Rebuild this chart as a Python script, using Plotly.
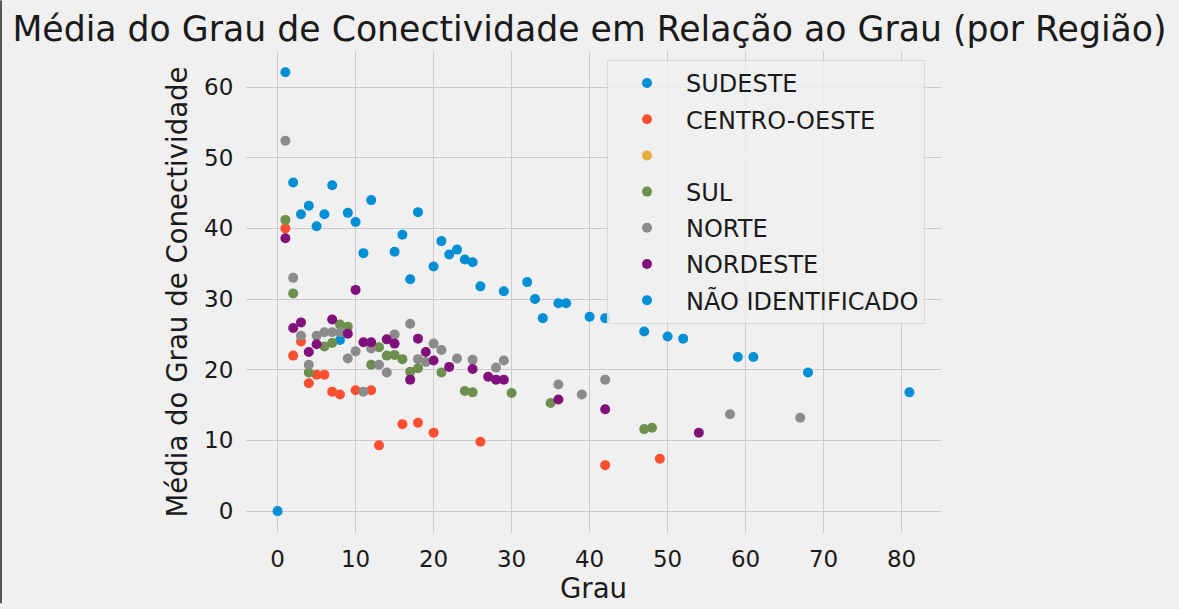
import plotly.graph_objects as go

# ---- data ----
sudeste_x = [1, 2, 3, 4, 5, 6, 7, 8, 9, 10, 11, 12, 15, 16, 17, 18, 20, 21, 22, 23, 24, 25, 26, 29, 32, 33, 34, 36, 37, 40, 42, 47, 50, 52, 59, 61, 68, 81]
sudeste_y = [62.1, 46.5, 42.0, 43.2, 40.3, 42.0, 46.1, 24.2, 42.2, 40.9, 36.5, 44.0, 36.7, 39.1, 32.8, 42.3, 34.6, 38.2, 36.3, 37.0, 35.6, 35.2, 31.8, 31.1, 32.4, 30.0, 27.3, 29.4, 29.4, 27.5, 27.3, 25.4, 24.7, 24.4, 21.8, 21.8, 19.6, 16.8]

centro_x = [1, 2, 3, 4, 5, 6, 7, 8, 10, 12, 13, 16, 18, 20, 26, 42, 49]
centro_y = [40.0, 22.0, 24.0, 18.1, 19.3, 19.3, 16.9, 16.5, 17.1, 17.1, 9.3, 12.3, 12.5, 11.1, 9.8, 6.5, 7.4]

# region with an empty name: no visible points in the reference
vazio_x = [None]
vazio_y = [None]

sul_x = [1, 2, 4, 6, 7, 8, 9, 12, 13, 14, 15, 16, 17, 18, 21, 24, 25, 30, 35, 47, 48]
sul_y = [41.2, 30.8, 19.6, 23.3, 23.8, 26.4, 26.1, 20.7, 23.2, 22.0, 22.1, 21.5, 19.7, 20.2, 19.6, 17.0, 16.8, 16.7, 15.3, 11.6, 11.8]

norte_x = [1, 2, 3, 4, 5, 6, 7, 8, 9, 10, 11, 12, 13, 14, 15, 17, 18, 19, 20, 21, 23, 25, 28, 29, 36, 39, 42, 58, 67]
norte_y = [52.4, 33.0, 24.8, 20.7, 24.8, 25.3, 25.3, 25.3, 21.6, 22.6, 16.9, 23.0, 20.7, 19.6, 25.0, 26.5, 21.5, 21.1, 23.7, 22.8, 21.6, 21.4, 20.3, 21.3, 17.9, 16.5, 18.6, 13.7, 13.2]

nordeste_x = [1, 2, 3, 4, 5, 7, 9, 10, 11, 12, 14, 15, 17, 18, 19, 20, 22, 25, 27, 28, 29, 36, 42, 54]
nordeste_y = [38.6, 25.9, 26.7, 22.5, 23.6, 27.1, 25.1, 31.3, 23.9, 23.9, 24.3, 23.7, 18.6, 24.4, 22.5, 21.3, 20.4, 20.1, 19.0, 18.6, 18.6, 15.8, 14.4, 11.1]

ni_x = [0]
ni_y = [0.0]

series = [
    ("SUDESTE", sudeste_x, sudeste_y, "#008fd5"),
    ("CENTRO-OESTE", centro_x, centro_y, "#fc4f30"),
    (" ", vazio_x, vazio_y, "#e5ae38"),
    ("SUL", sul_x, sul_y, "#6d904f"),
    ("NORTE", norte_x, norte_y, "#8b8b8b"),
    ("NORDESTE", nordeste_x, nordeste_y, "#810f7c"),
    ("NÃO IDENTIFICADO", ni_x, ni_y, "#008fd5"),
]

x_ticks = [0, 10, 20, 30, 40, 50, 60, 70, 80]
y_ticks = [0, 10, 20, 30, 40, 50, 60]

FONT = "DejaVu Sans"
BG = "#f0f0f0"
GRID = "#cbcbcb"

fig = go.Figure()
for i, (name, xs, ys, col) in enumerate(series):
    fig.add_trace(go.Scatter(
        x=xs, y=ys, mode="markers", name=name,
        legendgroup="g%d" % i,
        marker=dict(color=col, size=10, line=dict(width=0)),
    ))

L, R, T, B = 246, 238, 51, 71
pw = 1179 - L - R
ph = 609 - T - B

fig.update_layout(
    width=1179, height=609,
    margin=dict(l=L, r=R, t=T, b=B, pad=0),
    paper_bgcolor=BG, plot_bgcolor=BG,
    font=dict(family=FONT, color="#1a1a1a"),
    title=dict(
        text="Média do Grau de Conectividade em Relação ao Grau (por Região)",
        x=0.5, xanchor="center", y=1 - 29 / 609, yanchor="middle",
        font=dict(size=34.7, family=FONT, color="#1a1a1a"),
    ),
    showlegend=True,
    legend=dict(
        x=(607 - L) / pw, xanchor="left",
        y=1 - (60 - T) / ph, yanchor="top",
        bgcolor="rgba(240,240,240,0.85)",
        bordercolor="#dadada", borderwidth=1,
        font=dict(size=24, family=FONT, color="#1a1a1a"),
        tracegroupgap=2,
        itemwidth=68,
    ),
    xaxis=dict(
        range=[-4.05, 85.05], tickvals=x_ticks, ticktext=[str(v) for v in x_ticks],
        showgrid=True, gridcolor=GRID, gridwidth=1.3, zeroline=False,
        showline=False, ticks="outside", ticklen=5, tickcolor="rgba(0,0,0,0)",
        tickfont=dict(size=23, family=FONT, color="#1a1a1a"),
        title=dict(text="Grau", font=dict(size=27.6, family=FONT, color="#1a1a1a"), standoff=6),
    ),
    yaxis=dict(
        range=[-3.1, 65.1], tickvals=y_ticks, ticktext=[str(v) for v in y_ticks],
        showgrid=True, gridcolor=GRID, gridwidth=1.3, zeroline=False,
        showline=False, ticks="outside", ticklen=7, tickcolor="rgba(0,0,0,0)",
        tickfont=dict(size=23, family=FONT, color="#1a1a1a"),
        title=dict(text="Média do Grau de Conectividade", font=dict(size=27.6, family=FONT, color="#1a1a1a"), standoff=8),
    ),
    shapes=[dict(
        type="line", xref="paper", yref="paper",
        x0=-L / pw + 1 / pw, x1=-L / pw + 1 / pw,
        y0=-B / ph, y1=1 + T / ph,
        line=dict(color="#555555", width=2),
    )],
)

fig.write_html("out.html")
